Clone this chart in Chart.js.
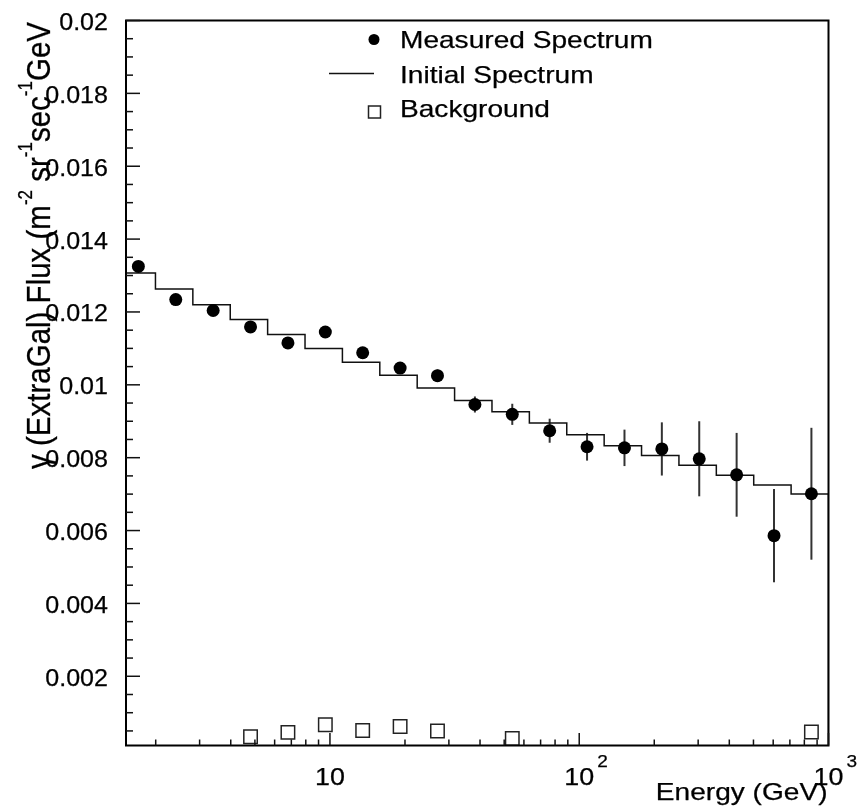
<!DOCTYPE html>
<html><head><meta charset="utf-8">
<script src="https://cdn.jsdelivr.net/npm/chart.js@4.4.1/dist/chart.umd.min.js"></script>
<style>html,body{margin:0;padding:0;background:#fff}#wrap{width:861px;height:811px}</style>
</head><body><div id="wrap"><canvas id="c" width="861" height="811"></canvas></div>
<script>
// ---- data ----
const binEdges = [1.4125, 1.9953, 2.8184, 3.9811, 5.6234, 7.9433, 11.220, 15.849, 22.387, 31.623, 44.668, 63.096, 89.125, 125.89, 177.83, 251.19, 354.81, 501.19, 707.95, 1000];
const binCenters = [1.704, 2.407, 3.400, 4.802, 6.783, 9.582, 13.53, 19.12, 27.00, 38.15, 53.88, 76.11, 107.5, 151.9, 214.5, 303.0, 428.0, 604.6, 854.0];
const measured = [0.01325, 0.01234, 0.01204, 0.01159, 0.01115, 0.01145, 0.01088, 0.01046, 0.01025, 0.00946, 0.00919, 0.00874, 0.00830, 0.00827, 0.00824, 0.00797, 0.00753, 0.00586, 0.00701];
const measuredErr = [0.00006, 0.00007, 0.00008, 0.00009, 0.00010, 0.00011, 0.00012, 0.00014, 0.00017, 0.00022, 0.00029, 0.00033, 0.00038, 0.00050, 0.00073, 0.00103, 0.00115, 0.00128, 0.00181];
const initial = [0.01307, 0.01263, 0.01220, 0.01179, 0.01138, 0.01100, 0.01062, 0.01026, 0.00991, 0.00957, 0.00926, 0.00895, 0.00863, 0.00833, 0.00806, 0.00779, 0.00752, 0.00725, 0.00700];
const background = [null, null, null, 0.00034, 0.00046, 0.00067, 0.00051, 0.00062, 0.00050, null, 0.00029, null, null, null, null, null, null, null, 0.00047];

const xMajorTicks = [10, 100, 1000];
const xMinorTicks = [2, 3, 4, 5, 6, 7, 8, 9, 20, 30, 40, 50, 60, 70, 80, 90, 200, 300, 400, 500, 600, 700, 800, 900];
const xLabelBase = ['10', '10', '10'];
const xLabelExp = ['', '2', '3'];
const yMajorTicks = [0.002, 0.004, 0.006, 0.008, 0.010, 0.012, 0.014, 0.016, 0.018, 0.020];
const yTickLabels = ['0.002', '0.004', '0.006', '0.008', '0.01', '0.012', '0.014', '0.016', '0.018', '0.02'];
const yMinorStep = 0.0005;

const legendLabels = ['Measured Spectrum', 'Initial Spectrum', 'Background'];
const xTitle = 'Energy (GeV)';
const yTitleParts = [['γ (ExtraGal) Flux (m', 0], ['-2', 1], [' sr', 0], ['-1', 1], ['sec', 0], ['-1', 1], ['GeV', 0]];

// ---- helpers ----
const FONT = "'Liberation Sans', Arial, Helvetica, sans-serif";
const TEXT_STROKE = 0.25;
function sText(ctx, str, x, y, align, size, sx) {
  ctx.save();
  ctx.font = size + 'px ' + FONT;
  const w = ctx.measureText(str).width * sx;
  let x0 = x;
  if (align === 'center') x0 = x - w / 2; else if (align === 'right') x0 = x - w;
  ctx.translate(x0, y); ctx.scale(sx, 1);
  ctx.textAlign = 'left'; ctx.textBaseline = 'alphabetic'; ctx.fillStyle = '#000';
  ctx.strokeStyle = '#000'; ctx.lineWidth = TEXT_STROKE; ctx.lineJoin = 'round';
  ctx.fillText(str, 0, 0);
  ctx.strokeText(str, 0, 0);
  ctx.restore();
  return w;
}

const histPoints = binEdges.slice(0, initial.length).map((e, i) => ({x: e, y: initial[i]}));
histPoints.push({x: binEdges[binEdges.length - 1], y: 0});

const rootPlugin = {
  id: 'rootDeco',
  beforeDatasetsDraw(chart) {
    const ctx = chart.ctx, xs = chart.scales.x, ys = chart.scales.y;
    ctx.save();
    ctx.strokeStyle = '#333'; ctx.lineWidth = 2;
    measured.forEach((v, i) => {
      const px = xs.getPixelForValue(binCenters[i]);
      ctx.beginPath();
      ctx.moveTo(px, ys.getPixelForValue(v + measuredErr[i]));
      ctx.lineTo(px, ys.getPixelForValue(v - measuredErr[i]));
      ctx.stroke();
    });
    ctx.restore();
  },
  afterDraw(chart) {
    const ctx = chart.ctx, xs = chart.scales.x, ys = chart.scales.y, ca = chart.chartArea;
    ctx.save();
    // frame
    ctx.strokeStyle = '#000'; ctx.lineWidth = 2;
    ctx.strokeRect(ca.left, ca.top, ca.right - ca.left, ca.bottom - ca.top);
    // ticks
    ctx.lineWidth = 1.5; ctx.strokeStyle = '#111';
    ys.ticks.forEach(t => {
      const py = ys.getPixelForValue(t.value);
      const len = t.major ? 14 : 7;
      ctx.beginPath(); ctx.moveTo(ca.left, py); ctx.lineTo(ca.left + len, py); ctx.stroke();
    });
    xs.ticks.forEach(t => {
      const px = xs.getPixelForValue(t.value);
      const len = t.major ? 12.5 : 6;
      ctx.beginPath(); ctx.moveTo(px, ca.bottom); ctx.lineTo(px, ca.bottom - len); ctx.stroke();
    });
    // y tick labels
    yMajorTicks.forEach((v, i) => {
      const py = ys.getPixelForValue(v);
      sText(ctx, yTickLabels[i], 108, py + 9.5, 'right', 23, 1.09);
    });
    // x tick labels
    xMajorTicks.forEach((v, i) => {
      const px = xs.getPixelForValue(v);
      ctx.font = '24px ' + FONT;
      const w = ctx.measureText(xLabelBase[i]).width * 1.12;
      sText(ctx, xLabelBase[i], px - w / 2, 785, 'left', 24, 1.12);
      if (xLabelExp[i]) sText(ctx, xLabelExp[i], px + w / 2 + 3, 767, 'left', 17, 1.12);
    });
    // x title
    sText(ctx, xTitle, ca.right - 1, 800, 'right', 24, 1.17);
    // y title (rotated, right aligned at top)
    ctx.save();
    ctx.translate(50, 22);
    ctx.rotate(-Math.PI / 2);
    ctx.scale(1, 1.15);
    ctx.fillStyle = '#000'; ctx.strokeStyle = '#000'; ctx.lineWidth = TEXT_STROKE;
    ctx.textAlign = 'left'; ctx.textBaseline = 'alphabetic';
    const F = 29.5, FS = 17, RAISE = 16;
    let total = 0;
    yTitleParts.forEach(([s, sup]) => { ctx.font = (sup ? FS : F) + 'px ' + FONT; total += ctx.measureText(s).width; });
    let cx = -total;
    yTitleParts.forEach(([s, sup]) => {
      ctx.font = (sup ? FS : F) + 'px ' + FONT;
      ctx.fillText(s, cx, sup ? -RAISE : 0);
      ctx.strokeText(s, cx, sup ? -RAISE : 0);
      cx += ctx.measureText(s).width;
    });
    ctx.restore();
    // legend
    ctx.fillStyle = '#000';
    ctx.beginPath(); ctx.arc(374, 39.5, 5.5, 0, Math.PI * 2); ctx.fill();
    sText(ctx, legendLabels[0], 400, 48, 'left', 24, 1.17);
    ctx.strokeStyle = '#111'; ctx.lineWidth = 1.5;
    ctx.beginPath(); ctx.moveTo(329, 73.5); ctx.lineTo(374, 73.5); ctx.stroke();
    sText(ctx, legendLabels[1], 400, 82.5, 'left', 24, 1.17);
    ctx.strokeStyle = '#222'; ctx.lineWidth = 1.5;
    ctx.strokeRect(368.5, 106, 12, 12);
    sText(ctx, legendLabels[2], 400, 117, 'left', 24, 1.17);
    ctx.restore();
  }
};

const yTickValues = [];
for (let k = 1; k * yMinorStep <= 0.02 + 1e-9; k++) yTickValues.push(+(k * yMinorStep).toFixed(4));

new Chart(document.getElementById('c'), {
  type: 'scatter',
  data: {
    datasets: [
      { label: legendLabels[0], data: measured.map((v, i) => ({x: binCenters[i], y: v})),
        pointStyle: 'circle', pointRadius: 6.5, backgroundColor: '#000', borderWidth: 0, showLine: false },
      { label: legendLabels[2], data: background.map((v, i) => ({x: binCenters[i], y: v})).filter(p => p.y !== null),
        pointStyle: 'rect', pointRadius: 9.5, backgroundColor: '#fff', borderColor: '#222', borderWidth: 1.5, showLine: false },
      { label: legendLabels[1], type: 'line', data: histPoints, stepped: 'before', showLine: true,
        pointRadius: 0, borderColor: '#111', borderWidth: 1.5, fill: false, clip: 0 }
    ]
  },
  options: {
    responsive: false, animation: false, events: [],
    layout: { padding: { left: 0, right: 32.5, top: 20.5, bottom: 0 } },
    plugins: { legend: { display: false }, tooltip: { enabled: false } },
    scales: {
      x: { type: 'logarithmic', min: 1.52, max: 1000,
        afterBuildTicks: s => { s.ticks = xMinorTicks.map(v => ({value: v, major: false})).concat(xMajorTicks.map(v => ({value: v, major: true}))); },
        afterFit: s => { s.height = 65.5; },
        ticks: { display: false }, grid: { display: false, drawTicks: false }, border: { display: false } },
      y: { type: 'linear', min: 0.0001, max: 0.02,
        afterBuildTicks: s => { s.ticks = yTickValues.map(v => ({value: v, major: yMajorTicks.some(m => Math.abs(m - v) < 1e-7)})); },
        afterFit: s => { s.width = 126; },
        ticks: { display: false }, grid: { display: false, drawTicks: false }, border: { display: false } }
    }
  },
  plugins: [rootPlugin]
});
</script></body></html>
